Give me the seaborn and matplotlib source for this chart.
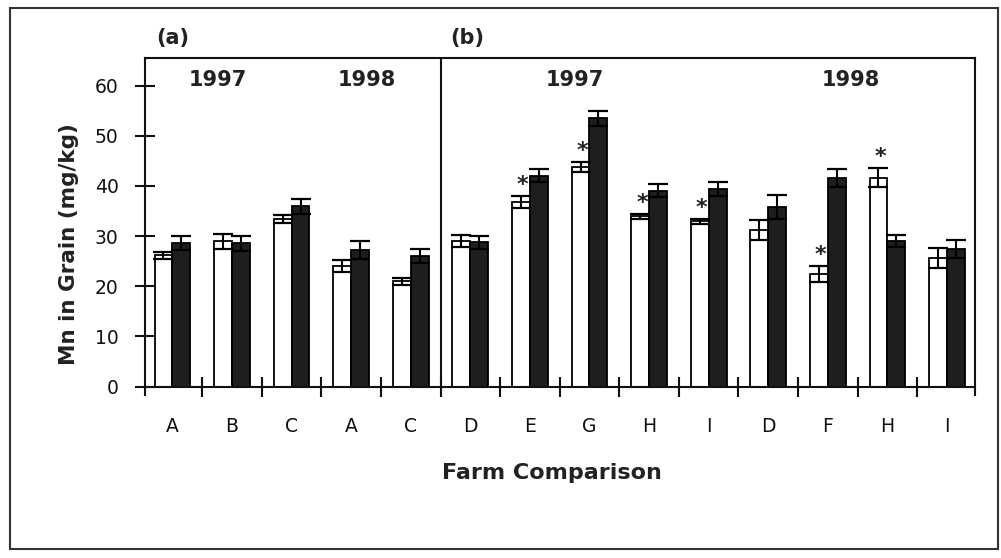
import numpy as np
import pandas as pd
import matplotlib
matplotlib.use("Agg")
import matplotlib.pyplot as plt
from matplotlib.patches import Rectangle
from matplotlib.ticker import FixedLocator
import seaborn as sns

# ---- data ----
labels = ["A", "B", "C", "A", "C", "D", "E", "G", "H", "I", "D", "F", "H", "I"]
white_vals = [26.2, 29.0, 33.4, 24.1, 21.0, 29.0, 36.8, 43.8, 34.0, 33.0, 31.3, 22.5, 41.6, 25.6]
white_err = [0.7, 1.5, 0.8, 1.2, 0.7, 1.2, 1.2, 1.0, 0.5, 0.5, 2.0, 1.6, 1.9, 2.0]
black_vals = [28.7, 28.6, 36.0, 27.2, 26.0, 28.8, 42.0, 53.5, 39.0, 39.3, 35.8, 41.5, 29.0, 27.5]
black_err = [1.4, 1.5, 1.5, 1.8, 1.4, 1.3, 1.3, 1.5, 1.3, 1.4, 2.3, 1.8, 1.2, 1.8]
signif = [False, False, False, False, False, False, True, True, True, True, False, True, True, False]
yticks = [0, 10, 20, 30, 40, 50, 60]

groups = [f"g{i}" for i in range(len(labels))]
pairs = ["first", "second"]
df = pd.DataFrame({
    "group": groups * 2,
    "pair": ["first"] * len(groups) + ["second"] * len(groups),
    "value": white_vals + black_vals,
})

sns.set_theme(style="white")
plt.rcParams["font.family"] = ["DejaVu Sans"]

W, H = 1001, 558
fig = plt.figure(figsize=(W / 100, H / 100), dpi=100)
ylo, yhi = -1.7, 65.5
ax = fig.add_axes([145 / W, 1 - 395.2 / H, (975 - 145) / W, (395.2 - 58) / H])

sns.barplot(data=df, x="group", y="value", hue="pair", order=groups, hue_order=pairs,
            palette={"first": "white", "second": "#1e1e1e"}, edgecolor="black",
            linewidth=1.3, width=0.6, errorbar=None, legend=False, ax=ax, zorder=2)

errs = [white_err, black_err]
for cont, err in zip(ax.containers, errs):
    for bar, e in zip(cont.patches, err):
        xc = bar.get_x() + bar.get_width() / 2
        ax.errorbar(xc, bar.get_height(), yerr=e, fmt="none", ecolor="black",
                    elinewidth=1.5, capsize=7, capthick=1.6, zorder=3)

for bar, e, s in zip(ax.containers[0].patches, white_err, signif):
    if s:
        xc = bar.get_x() + bar.get_width() / 2
        ax.text(xc + 0.03, bar.get_height() + e + 1.0, "*", ha="center", va="baseline",
                fontsize=16, fontweight="bold", color="#222222", zorder=4)

ax.set_ylim(ylo, yhi)
ax.set_xlim(-0.46, len(groups) - 0.53)

for sp in ax.spines.values():
    sp.set_linewidth(1.5)
    sp.set_color("#111111")
    sp.set_visible(True)
ax.spines["bottom"].set_position(("data", 0))

ax.set_yticks(yticks)
ax.set_yticklabels([str(v) for v in yticks])
ax.tick_params(axis="y", direction="inout", length=14, width=1.5, pad=12,
               labelsize=13.5, colors="#111111", left=True)
ax.set_xticks(range(len(groups)))
ax.set_xticklabels(labels)
ax.xaxis.set_minor_locator(FixedLocator(np.arange(0.5, len(groups) - 1, 1.0)))
ax.tick_params(axis="x", which="major", length=0, pad=22, labelsize=13.5, colors="#111111")
ax.tick_params(axis="x", which="minor", direction="inout", length=14, width=1.5,
               bottom=True, color="#111111")
ax.set_xlabel("")
ax.set_ylabel("")

# divider between panels (a) and (b)
ax.axvline(4.5, ymin=(0 - ylo) / (yhi - ylo), ymax=1, color="#111111", lw=1.5, zorder=1)

# panel annotations
txt_kw = dict(ha="center", va="center", fontsize=15, fontweight="bold", color="#222222")
ax.text(0.77, 61.2, "1997", **txt_kw)
ax.text(3.26, 61.2, "1998", **txt_kw)
ax.text(6.76, 61.2, "1997", **txt_kw)
ax.text(11.38, 61.2, "1998", **txt_kw)
ax.text(0.0, 69.5, "(a)", clip_on=False, **txt_kw)
ax.text(4.95, 69.5, "(b)", clip_on=False, **txt_kw)

fig.text(551.5 / W, 1 - 473 / H, "Farm Comparison", ha="center", va="center",
         fontsize=16, fontweight="bold", color="#222222")
fig.text(69 / W, 1 - 244.5 / H, "Mn in Grain (mg/kg)", ha="center", va="center",
         rotation=90, fontsize=15.5, fontweight="bold", color="#222222")

fig.patches.append(Rectangle((10 / W, 1 - 549 / H), (998 - 10) / W, (549 - 8) / H,
                             transform=fig.transFigure, fill=False, lw=1.5,
                             edgecolor="#333333"))

fig.savefig("out.png", dpi=100)
